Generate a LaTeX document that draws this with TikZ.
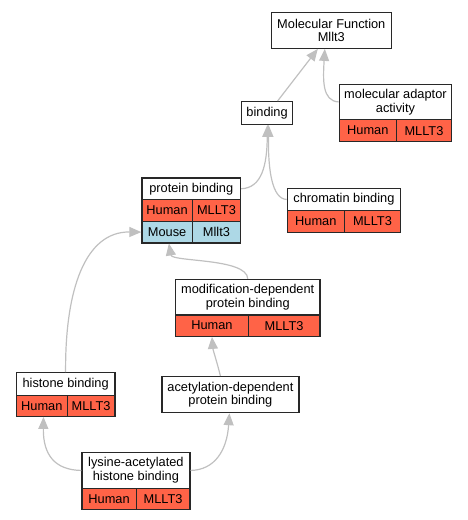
\documentclass[tikz,border=0pt]{standalone}
\usepackage{fontspec}
\setmainfont{Liberation Sans}
\usetikzlibrary{arrows.meta}
\definecolor{tomatoc}{RGB}{255,99,71}
\definecolor{lbluec}{RGB}{173,216,230}
\definecolor{edgec}{RGB}{192,192,192}
\definecolor{linec}{RGB}{40,40,40}
\newcommand{\fsz}{\fontsize{12.8}{13.6}\selectfont}
\tikzset{
  box/.style={draw=linec, line width=1.2pt, inner sep=0pt, align=center, anchor=north west, fill=white, font=\fsz},
  hum/.style={box, fill=tomatoc},
  mou/.style={box, fill=lbluec},
  edge/.style={draw=edgec, line width=1.2pt, -{Triangle[length=12pt,width=10pt]}}
}
\begin{document}
\begin{tikzpicture}[x=1pt,y=-1pt]
\useasboundingbox (0,0) rectangle (467,520);
% Molecular Function
\node[box, minimum width=120pt, minimum height=35.7pt] (mf) at (270.7,12) {Molecular Function\\Mllt3};
% molecular adaptor activity
\node[box, minimum width=112.3pt, minimum height=35.3pt] (ma) at (338.7,83.7) {molecular adaptor\\activity};
\node[hum, minimum width=57pt, minimum height=22pt] (maH) at (338.7,119) {Human};
\node[hum, minimum width=55.3pt, minimum height=22pt] (maG) at (395.7,119) {MLLT3};
% binding
\node[box, minimum width=51pt, minimum height=22.7pt] (bind) at (241,101) {binding};
% protein binding
\node[box, minimum width=98.7pt, minimum height=21.7pt] (pb) at (141.3,177.3) {protein binding};
\node[hum, minimum width=50.4pt, minimum height=21.7pt] (pbH) at (141.3,199) {Human};
\node[hum, minimum width=48.3pt, minimum height=21.7pt] (pbG) at (191.7,199) {MLLT3};
\node[mou, minimum width=50.4pt, minimum height=21.6pt] (pbM) at (141.3,220.7) {Mouse};
\node[mou, minimum width=48.3pt, minimum height=21.6pt] (pbN) at (191.7,220.7) {Mllt3};
% chromatin binding
\node[box, minimum width=113.3pt, minimum height=22.3pt] (cb) at (286.7,187.7) {chromatin binding};
\node[hum, minimum width=57pt, minimum height=21.7pt] (cbH) at (286.7,210) {Human};
\node[hum, minimum width=56.3pt, minimum height=21.7pt] (cbG) at (343.7,210) {MLLT3};
% modification-dependent protein binding
\node[box, minimum width=144.3pt, minimum height=35.6pt] (md) at (175,278.7) {modification-dependent\\protein binding};
\node[hum, minimum width=72.7pt, minimum height=21.4pt] (mdH) at (175,314.3) {Human};
\node[hum, minimum width=71.6pt, minimum height=21.4pt] (mdG) at (247.7,314.3) {MLLT3};
% histone binding
\node[box, minimum width=98.6pt, minimum height=23pt] (hb) at (15.7,372) {histone binding};
\node[hum, minimum width=51pt, minimum height=20.7pt] (hbH) at (15.7,395) {Human};
\node[hum, minimum width=47.6pt, minimum height=20.7pt] (hbG) at (66.7,395) {MLLT3};
% acetylation-dependent protein binding
\node[box, minimum width=137pt, minimum height=36pt] (ad) at (161.3,376) {acetylation-dependent\\protein binding};
% lysine-acetylated histone binding
\node[box, minimum width=108pt, minimum height=35.7pt] (la) at (81.3,452) {lysine-acetylated\\histone binding};
\node[hum, minimum width=54.4pt, minimum height=21pt] (laH) at (81.3,487.7) {Human};
\node[hum, minimum width=53.6pt, minimum height=21pt] (laG) at (135.7,487.7) {MLLT3};
% edges
\draw[edge] ([xshift=10.5pt]bind.north) -- ([xshift=-13.5pt]mf.south);
\draw[edge] (ma.west) .. controls (322,101) and (323,80) .. ([xshift=-6.5pt]mf.south);
\draw[edge] (pb.east) .. controls (262,188) and (267,165) .. ([xshift=0.3pt]bind.south);
\draw[edge] (cb.west) .. controls (272,199) and (268,170) .. ([xshift=1.5pt]bind.south);
\draw[edge] (hb.north) .. controls (65,290) and (85,231.5) .. (pbM.west);
\draw[edge] (md.north) .. controls (247,258) and (172,262) .. ([xshift=1.8pt]pbM.south);
\draw[edge] ([xshift=-10pt]ad.north) .. controls (217,362) and (213,350) .. (mdH.south);
\draw[edge] (la.west) .. controls (55,470) and (43,455) .. ([xshift=1.7pt]hbH.south);
\draw[edge] (la.east) .. controls (215,470) and (227,450) .. ([xshift=-1pt]ad.south);
\end{tikzpicture}
\end{document}
